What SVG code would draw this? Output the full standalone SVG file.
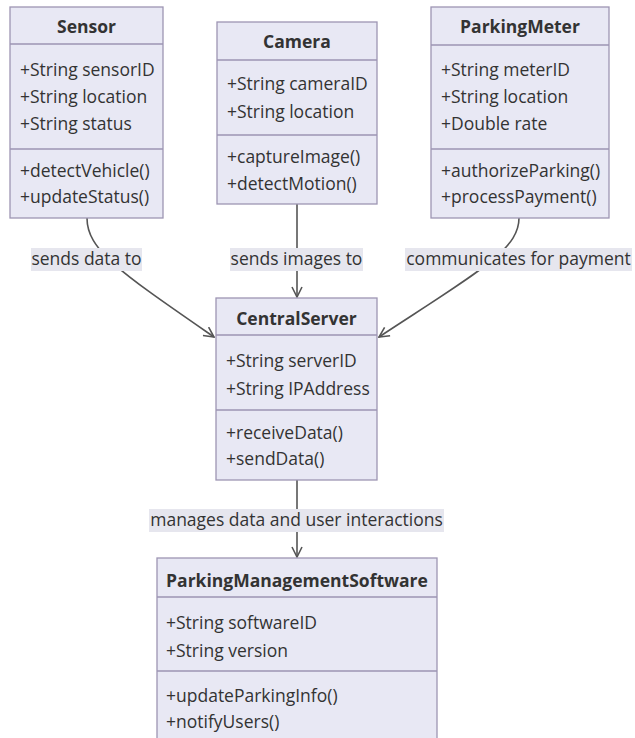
<svg xmlns="http://www.w3.org/2000/svg" width="635" height="738" viewBox="0 0 635 738">
  <style>
    text { font-family: "Open Sans", "Liberation Sans", sans-serif; font-size: 17.5px; fill: #333333; }
    .title { font-weight: bold; text-anchor: middle; }
    .label { text-anchor: middle; }
    .box { fill: #e8e8f4; stroke: #9d95b3; stroke-width: 1.3; }
    .sep { stroke: #9d95b3; stroke-width: 1.3; }
    .edge { fill: none; stroke: #555555; stroke-width: 1.6; }
    .lbg { fill: #e6e6ee; }
  </style>
  <defs>
    <marker id="arrow" viewBox="0 0 12 12" refX="11" refY="6" markerWidth="12" markerHeight="12" markerUnits="userSpaceOnUse" orient="auto">
      <path d="M1,1 L11,6 L1,11" fill="none" stroke="#555555" stroke-width="1.6"/>
    </marker>
  </defs>
  <rect width="635" height="738" fill="#ffffff"/>

  <!-- connectors -->
  <g id="connectors">
    <path class="edge" d="M87,218 C87,250 120,272 214,337" marker-end="url(#arrow)"/>
    <path class="edge" d="M297,204 L297,297" marker-end="url(#arrow)"/>
    <path class="edge" d="M519,218 C519,250 478,272 379,337" marker-end="url(#arrow)"/>
    <path class="edge" d="M297,480 L297,557" marker-end="url(#arrow)"/>
    <rect class="lbg" x="31" y="248" width="111" height="23"/>
    <text class="label" x="86.5" y="265">sends data to</text>
    <rect class="lbg" x="230" y="248" width="133" height="23"/>
    <text class="label" x="296.5" y="265">sends images to</text>
    <rect class="lbg" x="405" y="248" width="227" height="23"/>
    <text class="label" x="518.5" y="265">communicates for payment</text>
    <rect class="lbg" x="149" y="509" width="295" height="23"/>
    <text class="label" x="296.5" y="526">manages data and user interactions</text>
  </g>

  <!-- Sensor -->
  <g id="Sensor">
    <rect class="box" x="10" y="7" width="153" height="211"/>
    <line class="sep" x1="10" y1="44" x2="163" y2="44"/>
    <line class="sep" x1="10" y1="149" x2="163" y2="149"/>
    <text class="title" x="86.5" y="33">Sensor</text>
    <text x="20" y="76">+String sensorID</text>
    <text x="20" y="103">+String location</text>
    <text x="20" y="130">+String status</text>
    <text x="20" y="177">+detectVehicle()</text>
    <text x="20" y="203">+updateStatus()</text>
  </g>

  <!-- Camera -->
  <g id="Camera">
    <rect class="box" x="217" y="22" width="160" height="182"/>
    <line class="sep" x1="217" y1="60" x2="377" y2="60"/>
    <line class="sep" x1="217" y1="135" x2="377" y2="135"/>
    <text class="title" x="297" y="48">Camera</text>
    <text x="227" y="90">+String cameraID</text>
    <text x="227" y="118">+String location</text>
    <text x="227" y="163">+captureImage()</text>
    <text x="227" y="190">+detectMotion()</text>
  </g>

  <!-- ParkingMeter -->
  <g id="ParkingMeter">
    <rect class="box" x="431" y="7" width="178" height="211"/>
    <line class="sep" x1="431" y1="45" x2="609" y2="45"/>
    <line class="sep" x1="431" y1="149" x2="609" y2="149"/>
    <text class="title" x="520" y="33">ParkingMeter</text>
    <text x="441" y="76">+String meterID</text>
    <text x="441" y="103">+String location</text>
    <text x="441" y="130">+Double rate</text>
    <text x="441" y="177">+authorizeParking()</text>
    <text x="441" y="203">+processPayment()</text>
  </g>

  <!-- CentralServer -->
  <g id="CentralServer">
    <rect class="box" x="216" y="298" width="161" height="182"/>
    <line class="sep" x1="216" y1="335" x2="377" y2="335"/>
    <line class="sep" x1="216" y1="410" x2="377" y2="410"/>
    <text class="title" x="296.5" y="325">CentralServer</text>
    <text x="226" y="367">+String serverID</text>
    <text x="226" y="395">+String IPAddress</text>
    <text x="226" y="439">+receiveData()</text>
    <text x="226" y="465">+sendData()</text>
  </g>

  <!-- ParkingManagementSoftware -->
  <g id="ParkingManagementSoftware">
    <rect class="box" x="157" y="558" width="280" height="190"/>
    <line class="sep" x1="157" y1="597" x2="437" y2="597"/>
    <line class="sep" x1="157" y1="671" x2="437" y2="671"/>
    <text class="title" x="297" y="587">ParkingManagementSoftware</text>
    <text x="166" y="629">+String softwareID</text>
    <text x="166" y="657">+String version</text>
    <text x="166" y="702">+updateParkingInfo()</text>
    <text x="166" y="728">+notifyUsers()</text>
  </g>
</svg>
